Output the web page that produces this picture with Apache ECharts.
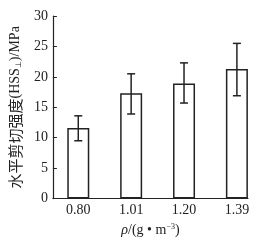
<!DOCTYPE html>
<html><head><meta charset="utf-8">
<script src="https://cdn.jsdelivr.net/npm/echarts@6/dist/echarts.min.js"></script>
<style>html,body{margin:0;padding:0;background:#fff}#c{width:267px;height:242px}</style>
</head><body><div id="c"></div>
<script>
const categories = ['0.80', '1.01', '1.20', '1.39'];
const meanValues = [11.6, 17.3, 18.9, 21.3];
const errLow = [9.5, 13.9, 15.7, 16.9];
const errHigh = [13.6, 20.5, 22.3, 25.5];
const yTicks = [0, 5, 10, 15, 20, 25, 30];

const chart = echarts.init(document.getElementById('c'), null, {renderer: 'canvas'});
const serif = '"Liberation Serif","Times New Roman",serif';
const txt = '#222';
chart.setOption({
  animation: false,
  backgroundColor: '#fff',
  grid: {left: 51, right: 19, top: 16, bottom: 40},
  xAxis: {
    type: 'value', min: -0.48, max: 3.21,
    axisLine: {show: true, onZero: false, lineStyle: {color: '#222', width: 1.2}},
    axisTick: {show: false},
    splitLine: {show: false},
    axisLabel: {customValues: [0, 1, 2, 3], formatter: v => categories[Math.round(v)],
      fontFamily: serif, fontSize: 14, color: txt, margin: 5},
    name: '{i|ρ}{a|/(g • m}{s|−3}{a|)}',
    nameLocation: 'middle', nameGap: 22,
    nameTextStyle: {rich: {
      i: {fontFamily: serif, fontSize: 14, color: txt, fontStyle: 'italic'},
      a: {fontFamily: serif, fontSize: 14, color: txt},
      s: {fontFamily: serif, fontSize: 8, color: txt, verticalAlign: 'top', padding: [0, 0, 7, 0]}
    }}
  },
  yAxis: {
    type: 'value', min: 0, max: 30, interval: 5,
    axisLine: {show: true, onZero: false, lineStyle: {color: '#222', width: 1.2}},
    axisTick: {show: true, inside: true, length: 4, lineStyle: {color: '#222'}},
    splitLine: {show: false},
    axisLabel: {fontFamily: serif, fontSize: 14, color: txt, margin: 5,
      formatter: v => yTicks.includes(v) ? String(v) : ''},
    name: '{c|水平剪切强度}{a|(HSS}{s|⊥}{a|)/MPa}',
    nameLocation: 'middle', nameGap: 29,
    nameTextStyle: {rich: {
      c: {fontFamily: '"Noto Sans CJK SC"', fontSize: 15, color: txt},
      a: {fontFamily: serif, fontSize: 14, color: txt},
      s: {fontFamily: serif, fontSize: 8, color: txt, verticalAlign: 'bottom', padding: [7, 0, 0, 0]}
    }}
  },
  series: [
    {
      type: 'bar', barWidth: 22,
      data: meanValues.map((v, i) => [i, v]),
      itemStyle: {color: '#fff', borderColor: '#222', borderWidth: 1.5}
    },
    {
      type: 'custom',
      data: categories.map((c, i) => [i, errLow[i], errHigh[i]]),
      renderItem: (params, api) => {
        const lo = api.coord([api.value(0), api.value(1)]);
        const hi = api.coord([api.value(0), api.value(2)]);
        const hw = 4;
        const st = {stroke: '#222', lineWidth: 1.5};
        return {type: 'group', children: [
          {type: 'line', shape: {x1: lo[0], y1: lo[1], x2: hi[0], y2: hi[1]}, style: st},
          {type: 'line', shape: {x1: lo[0] - hw, y1: lo[1], x2: lo[0] + hw, y2: lo[1]}, style: st},
          {type: 'line', shape: {x1: hi[0] - hw, y1: hi[1], x2: hi[0] + hw, y2: hi[1]}, style: st}
        ]};
      },
      z: 5
    }
  ]
});
</script></body></html>
